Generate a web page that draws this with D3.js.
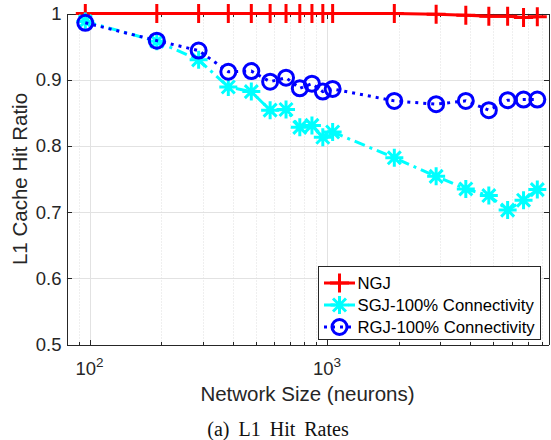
<!DOCTYPE html>
<html>
<head>
<meta charset="utf-8">
<script src="https://cdn.jsdelivr.net/npm/d3@7"></script>
<style>
  body { margin: 0; background: #fff; }
  svg { display: block; }
</style>
</head>
<body>
<div id="chart"></div>
<script>
// network sizes (x) and L1 hit ratios per series
const networkSizes = [96, 192, 288, 384, 480, 576, 672, 768, 864, 960, 1056, 1920, 2880, 3840, 4800, 5760, 6720, 7680];
const ngjHit = [1, 1, 1, 1, 1, 1, 1, 1, 1, 1, 1, 1, 0.999, 0.9975, 0.996, 0.996, 0.994, 0.995];
const sgjHit = [0.988, 0.958, 0.93, 0.889, 0.882, 0.854, 0.855, 0.828, 0.831, 0.813, 0.821, 0.782, 0.754, 0.735, 0.725, 0.703, 0.718, 0.734];
const rgjHit = [0.986, 0.959, 0.944, 0.912, 0.913, 0.897, 0.903, 0.887, 0.894, 0.882, 0.886, 0.868, 0.863, 0.868, 0.854, 0.869, 0.870, 0.870];

const seriesNames = ['NGJ', 'SGJ-100% Connectivity', 'RGJ-100% Connectivity'];

const yTicks = [0.5, 0.6, 0.7, 0.8, 0.9, 1];
const yTickLabels = ['0.5', '0.6', '0.7', '0.8', '0.9', '1'];
const xMajorTicks = [100, 1000];
const xTickExponents = ['2', '3'];
const xMinorTicks = [90, 200, 300, 400, 500, 600, 700, 800, 900, 2000, 3000, 4000, 5000, 6000, 7000, 8000];

const width = 551, height = 440;
const plot = { left: 66.5, right: 548.5, top: 13.5, bottom: 344.5 };
const axisColor = '#262626';
const sans = '"Liberation Sans", Arial, Helvetica, sans-serif';

const svg = d3.select('#chart').append('svg')
    .attr('width', width)
    .attr('height', height);

const x = d3.scaleLog().domain([80, 8560]).range([plot.left, plot.right]);
const y = d3.scaleLinear().domain([0.5, 1]).range([plot.bottom, plot.top]);

// grid lines (major solid, minor dotted)
const grid = svg.append('g');
grid.selectAll('.gy').data(yTicks.slice(1, -1)).enter().append('line')
    .attr('x1', plot.left).attr('x2', plot.right)
    .attr('y1', d => Math.round(y(d)) + 0.5).attr('y2', d => Math.round(y(d)) + 0.5)
    .attr('stroke', '#e2e2e2').attr('stroke-width', 1);
grid.selectAll('.gx').data(xMajorTicks).enter().append('line')
    .attr('x1', d => Math.round(x(d)) + 0.5).attr('x2', d => Math.round(x(d)) + 0.5)
    .attr('y1', plot.top).attr('y2', plot.bottom)
    .attr('stroke', '#e2e2e2').attr('stroke-width', 1);
grid.selectAll('.gxm').data(xMinorTicks).enter().append('line')
    .attr('x1', d => Math.round(x(d)) + 0.5).attr('x2', d => Math.round(x(d)) + 0.5)
    .attr('y1', plot.top).attr('y2', plot.bottom)
    .attr('stroke', '#dedede').attr('stroke-width', 1)
    .attr('stroke-dasharray', '1,2');

// axes: ticks point inward, box on all four sides
function styleAxis(g) {
    g.selectAll('path, line').attr('stroke', axisColor).attr('shape-rendering', 'crispEdges');
    g.selectAll('text').attr('fill', axisColor).style('font-family', sans);
}

svg.append('g')
    .attr('transform', `translate(${plot.left},0)`)
    .call(d3.axisLeft(y).tickValues(yTicks).tickSizeInner(-5).tickSizeOuter(0).tickPadding(5)
        .tickFormat((d, i) => yTickLabels[i]))
    .call(styleAxis)
    .call(g => g.selectAll('text').style('font-size', '18.5px'));

svg.append('g')
    .attr('transform', `translate(${plot.right},0)`)
    .call(d3.axisRight(y).tickValues(yTicks).tickSizeInner(-5).tickSizeOuter(0).tickFormat(''))
    .call(styleAxis);

svg.append('g')
    .attr('transform', `translate(0,${plot.bottom})`)
    .call(d3.axisBottom(x).tickValues(xMajorTicks).tickSizeInner(-5).tickSizeOuter(0).tickFormat(''))
    .call(styleAxis);
svg.append('g')
    .attr('transform', `translate(0,${plot.bottom})`)
    .call(d3.axisBottom(x).tickValues(xMinorTicks).tickSizeInner(-3).tickSizeOuter(0).tickFormat(''))
    .call(styleAxis)
    .call(g => g.select('.domain').remove());

svg.append('g')
    .attr('transform', `translate(0,${plot.top})`)
    .call(d3.axisTop(x).tickValues(xMajorTicks).tickSizeInner(-5).tickSizeOuter(0).tickFormat(''))
    .call(styleAxis);
svg.append('g')
    .attr('transform', `translate(0,${plot.top})`)
    .call(d3.axisTop(x).tickValues(xMinorTicks).tickSizeInner(-3).tickSizeOuter(0).tickFormat(''))
    .call(styleAxis)
    .call(g => g.select('.domain').remove());

// x tick labels 10^n
const xLabels = svg.append('g');
xMajorTicks.forEach((t, i) => {
    const txt = xLabels.append('text')
        .attr('x', x(t))
        .attr('y', 375)
        .attr('text-anchor', 'middle')
        .attr('fill', axisColor)
        .style('font-family', sans)
        .style('font-size', '18.5px');
    txt.append('tspan').text('10');
    txt.append('tspan').attr('dy', -8).style('font-size', '13.5px').text(xTickExponents[i]);
});

// axis labels
svg.append('text')
    .attr('x', (plot.left + plot.right) / 2)
    .attr('y', 401)
    .attr('text-anchor', 'middle')
    .attr('fill', axisColor)
    .style('font-family', sans)
    .style('font-size', '20.5px')
    .text('Network Size (neurons)');

svg.append('text')
    .attr('transform', `translate(27,${(plot.top + plot.bottom) / 2}) rotate(-90)`)
    .attr('text-anchor', 'middle')
    .attr('fill', axisColor)
    .style('font-family', sans)
    .style('font-size', '20.5px')
    .text('L1 Cache Hit Ratio');

// caption
svg.append('text')
    .attr('x', 278)
    .attr('y', 436)
    .attr('text-anchor', 'middle')
    .attr('fill', '#111')
    .style('font-family', '"Liberation Serif", "Times New Roman", serif')
    .style('font-size', '20px')
    .style('word-spacing', '4px')
    .text('(a) L1 Hit Rates');

// marker shapes
const plusPath = s => `M${-s},0H${s}M0,${-s}V${s}`;
const starPath = s => {
    const d = s * 0.72;
    return `M${-s},0H${s}M0,${-s}V${s}M${-d},${-d}L${d},${d}M${-d},${d}L${d},${-d}`;
};

const series = [
    { name: seriesNames[0], values: ngjHit, color: '#ff0000', dash: null, marker: 'plus' },
    { name: seriesNames[1], values: sgjHit, color: '#00ffff', dash: '11,5,3,5', marker: 'star' },
    { name: seriesNames[2], values: rgjHit, color: '#0000ff', dash: '3,5', marker: 'circle' }
];

function drawMarker(g, type, color) {
    if (type === 'circle') {
        g.append('circle').attr('r', 7.5)
            .attr('fill', 'none').attr('stroke', color).attr('stroke-width', 3);
    } else {
        g.append('path')
            .attr('d', type === 'plus' ? plusPath(9.5) : starPath(9))
            .attr('fill', 'none').attr('stroke', color).attr('stroke-width', 3);
    }
}

const line = d3.line()
    .x(d => x(d.size))
    .y(d => y(d.value));

series.forEach(s => {
    const pts = networkSizes.map((size, i) => ({ size, value: s.values[i] }));
    const g = svg.append('g');
    g.append('path')
        .datum(pts)
        .attr('d', line)
        .attr('fill', 'none')
        .attr('stroke', s.color)
        .attr('stroke-width', 3)
        .attr('stroke-dasharray', s.dash);
    g.selectAll('.m').data(pts).enter().append('g')
        .attr('transform', d => `translate(${x(d.size)},${y(d.value)})`)
        .each(function () { drawMarker(d3.select(this), s.marker, s.color); });
});

// legend
const legend = svg.append('g').attr('transform', 'translate(318.5,266.5)');
legend.append('rect')
    .attr('width', 222).attr('height', 73)
    .attr('fill', '#fff').attr('stroke', axisColor).attr('stroke-width', 1);
series.forEach((s, i) => {
    const row = legend.append('g').attr('transform', `translate(0,${16.5 + i * 22})`);
    row.append('line')
        .attr('x1', 5.5).attr('x2', 36.5)
        .attr('stroke', s.color).attr('stroke-width', 3)
        .attr('stroke-dasharray', s.dash);
    const m = row.append('g').attr('transform', 'translate(21,0)');
    drawMarker(m, s.marker, s.color);
    row.append('text')
        .attr('x', 39)
        .attr('dy', '0.35em')
        .attr('fill', '#000')
        .style('font-family', sans)
        .style('font-size', '16.7px')
        .text(s.name);
});
</script>
</body>
</html>
